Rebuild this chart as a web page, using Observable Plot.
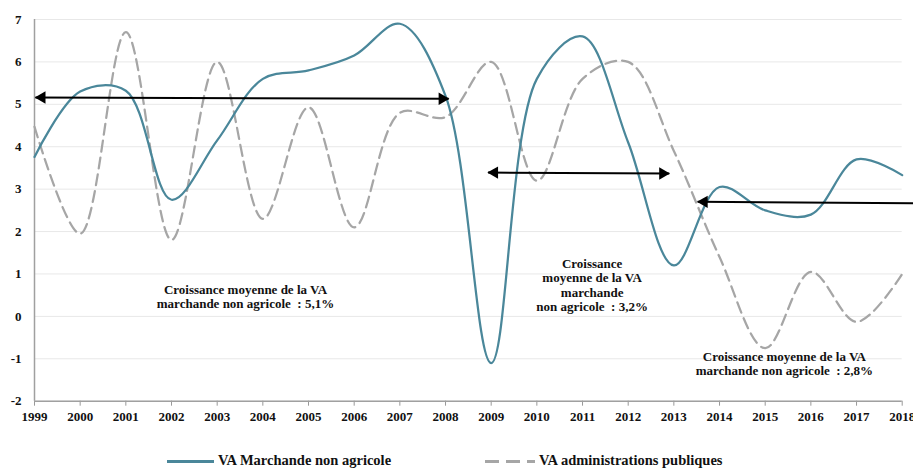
<!DOCTYPE html>
<html>
<head>
<meta charset="utf-8">
<script src="https://cdn.jsdelivr.net/npm/d3@7"></script>
<script src="https://cdn.jsdelivr.net/npm/@observablehq/plot@0.6"></script>
<style>
  body { margin: 0; background: white; }
  #wrap { position: relative; width: 913px; height: 468px; overflow: hidden; }
  #legend { position: absolute; left: 0; top: 440px; width: 913px; height: 28px; font: bold 14.5px "Liberation Serif", serif; color: #111; }
  #legend .sw { position: absolute; height: 2.5px; }
  #legend .lb { position: absolute; line-height: 1; white-space: nowrap; }
</style>
</head>
<body>
<div id="wrap"><div id="chart"></div>
  <div id="legend"></div>
</div>
<script>
const years = [1999, 2000, 2001, 2002, 2003, 2004, 2005, 2006, 2007, 2008, 2009, 2010, 2011, 2012, 2013, 2014, 2015, 2016, 2017, 2018];
const vaMarchande = [3.76, 5.3, 5.32, 2.75, 4.15, 5.6, 5.8, 6.15, 6.9, 5.2, -1.1, 5.6, 6.6, 4.1, 1.2, 3.05, 2.5, 2.4, 3.7, 3.33];
const vaAdmin = [4.47, 1.95, 6.7, 1.8, 6.0, 2.3, 4.93, 2.1, 4.8, 4.7, 6.0, 3.2, 5.6, 6.0, 3.9, 1.4, -0.75, 1.05, -0.13, 1.0];
const yTicks = [-2, -1, 0, 1, 2, 3, 4, 5, 6, 7];

const seriesNames = ["VA Marchande non agricole", "VA administrations publiques"];
const seriesColors = ["#4a879a", "#a6a6a6"];

// average-growth arrows (double-headed)
const arrowX1 = [1999.02, 2008.93, 2013.52];
const arrowX2 = [2008.07, 2012.9, 2019.03];
const arrowY1 = [5.16, 3.39, 2.70];
const arrowY2 = [5.13, 3.37, 2.66];

// annotations
const noteText = [
  "Croissance moyenne de la VA\nmarchande non agricole \u00a0: 5,1%",
  "Croissance\nmoyenne de la VA\nmarchande\nnon agricole \u00a0: 3,2%",
  "Croissance moyenne de la VA\nmarchande non agricole \u00a0: 2,8%"
];
const noteX = [2003.62, 2011.21, 2015.42];
const noteY = [0.465, 0.74, -1.11];

const marchData = years.map((x, i) => ({x, y: vaMarchande[i]}));
const adminData = years.map((x, i) => ({x, y: vaAdmin[i]}));
const arrows = arrowX1.map((x1, i) => ({x1, x2: arrowX2[i], y1: arrowY1[i], y2: arrowY2[i]}));
const notes = noteText.map((text, i) => ({text, x: noteX[i], y: noteY[i]}));

const chart = Plot.plot({
  width: 913,
  height: 440,
  marginLeft: 34,
  marginRight: 11.3,
  marginTop: 19,
  marginBottom: 39.3,
  x: {domain: [1999, 2018]},
  y: {domain: [-2, 7]},
  style: {fontFamily: "'Liberation Serif', serif", fontSize: "13px", fontWeight: "bold", background: "white", color: "#111"},
  marks: [
    Plot.gridY(yTicks, {stroke: "#e8e8e8", strokeOpacity: 1, strokeWidth: 1}),
    Plot.axisY(yTicks, {tickSize: 0, tickPadding: 13, tickFormat: d => String(d), fill: "#111"}),
    Plot.axisX(years, {tickSize: 5, tickPadding: 6, stroke: "#999", fill: "#111", tickFormat: d => String(d)}),
    Plot.ruleX([1999], {stroke: "#a0a0a0", strokeWidth: 1.5}),
    Plot.ruleY([-2], {stroke: "#a0a0a0", strokeWidth: 1.5}),
    Plot.line(adminData, {x: "x", y: "y", stroke: seriesColors[1], strokeWidth: 2.25, strokeDasharray: "11,6", curve: "catmull-rom"}),
    Plot.line(marchData, {x: "x", y: "y", stroke: seriesColors[0], strokeWidth: 2.25, curve: "catmull-rom"}),
    Plot.link(arrows, {x1: "x1", y1: "y1", x2: "x2", y2: "y2", stroke: "black", strokeWidth: 2}),
    Plot.dot(arrows, {x: "x1", y: "y1", symbol: "triangle", rotate: -90, r: 4.6, fill: "black", stroke: null, dx: 6.5}),
    Plot.dot(arrows, {x: "x2", y: "y2", symbol: "triangle", rotate: 90, r: 4.6, fill: "black", stroke: null, dx: -6.5}),
    Plot.text(notes, {x: "x", y: "y", text: "text", lineAnchor: "middle", lineHeight: 1.1, fontWeight: "bold", fontSize: 13, fill: "#111"})
  ]
});
document.getElementById("chart").appendChild(chart);

// legend below the chart
const legend = document.getElementById("legend");
const legendItems = [
  {swLeft: 167, swWidth: 47, lbLeft: 218, dashed: false},
  {swLeft: 485, swWidth: 50, lbLeft: 539, dashed: true}
];
legendItems.forEach((it, i) => {
  const sw = document.createElement("div");
  sw.className = "sw";
  sw.style.left = it.swLeft + "px";
  sw.style.width = it.swWidth + "px";
  sw.style.top = "20px";
  sw.style.background = it.dashed
    ? `repeating-linear-gradient(to right, ${seriesColors[i]} 0 14px, transparent 14px 21px)`
    : seriesColors[i];
  legend.appendChild(sw);
  const lb = document.createElement("div");
  lb.className = "lb";
  lb.style.left = it.lbLeft + "px";
  lb.style.top = "12.6px";
  lb.textContent = seriesNames[i];
  legend.appendChild(lb);
});
</script>
</body>
</html>
